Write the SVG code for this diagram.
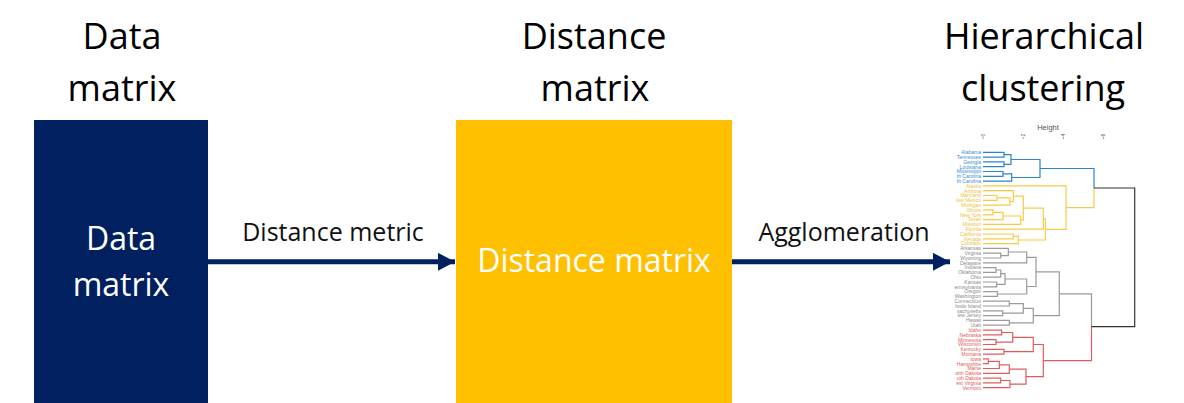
<svg xmlns="http://www.w3.org/2000/svg" width="1184" height="403" viewBox="0 0 1184 403">
<defs>
<style>
.title{font-family:"Open Sans","Liberation Sans",sans-serif;font-size:36px;fill:#000;text-anchor:middle}
.inbox{font-family:"Open Sans","Liberation Sans",sans-serif;font-size:32px;fill:#fff;text-anchor:middle}
.elabel{font-family:"Open Sans","Liberation Sans",sans-serif;font-size:25px;fill:#111;text-anchor:middle}
.conn{stroke:#002060;stroke-width:5;fill:none}
.lab{font-family:"Liberation Sans",Arial,sans-serif;font-size:5px;text-anchor:end}
.lb{fill:#3A8ED4}.ly{fill:#EFC23A}.lg{fill:#8A8A8A}.lr{fill:#E05A5A}
.dend{fill:none;stroke-width:1.2}
.sb{stroke:#2E83CF}.sy{stroke:#F5CB45}.sg{stroke:#9A9A9A}.sr{stroke:#E05C5C}.sk{stroke:#333}
.ax{font-family:"Liberation Sans",Arial,sans-serif;fill:#555}
</style>
<marker id="ah" viewBox="0 0 17 18" refX="17" refY="9" markerWidth="17" markerHeight="18" markerUnits="userSpaceOnUse" orient="auto">
<path d="M0,0 L17,9 L0,18 Z" fill="#002060"/>
</marker>
</defs>
<rect width="1184" height="403" fill="#fff"/>

<g id="title-data">
<text class="title" x="122" y="49">Data</text>
<text class="title" x="122" y="100.5">matrix</text>
</g>
<g id="title-distance">
<text class="title" x="594" y="49">Distance</text>
<text class="title" x="595" y="100.5">matrix</text>
</g>
<g id="title-hc">
<text class="title" x="1044" y="49">Hierarchical</text>
<text class="title" x="1043" y="100.5">clustering</text>
</g>

<g id="node-data-matrix">
<rect x="34" y="120" width="174" height="283" fill="#002060"/>
<text class="inbox" x="121" y="250">Data</text>
<text class="inbox" x="121" y="296">matrix</text>
</g>

<g id="node-distance-matrix">
<rect x="456" y="120" width="276" height="283" fill="#FFC000"/>
<text class="inbox" x="594" y="272">Distance matrix</text>
</g>

<g id="connectors">
<line class="conn" x1="208" y1="261.8" x2="455" y2="261.8" marker-end="url(#ah)"/>
<text class="elabel" x="333" y="240.7">Distance metric</text>
<line class="conn" x1="732" y1="261.8" x2="950" y2="261.8" marker-end="url(#ah)"/>
<text class="elabel" x="844" y="240.7">Agglomeration</text>
</g>

<g id="node-dendrogram">
<g id="axis">
<text class="ax" x="1048" y="129.5" font-size="7.5" text-anchor="middle">Height</text>
<g font-size="5" text-anchor="middle">
<text class="ax" transform="translate(984.7,135) rotate(-90)">0</text>
<text class="ax" transform="translate(1024.9,135) rotate(-90)">2</text>
<text class="ax" transform="translate(1065.1,135) rotate(-90)">4</text>
<text class="ax" transform="translate(1105.3,135) rotate(-90)">6</text>
</g>
<g stroke="#777" stroke-width="0.8">
<line x1="983" y1="137.2" x2="983" y2="139"/>
<line x1="1023.2" y1="137.2" x2="1023.2" y2="139"/>
<line x1="1063.4" y1="137.2" x2="1063.4" y2="139"/>
<line x1="1103.6" y1="137.2" x2="1103.6" y2="139"/>
</g>
</g>
<g id="leaf-labels" class="lab">
<text class="lb" x="981" y="154.1">Alabama</text>
<text class="lb" x="981" y="158.9">Tennessee</text>
<text class="lb" x="981" y="163.7">Georgia</text>
<text class="lb" x="981" y="168.5">Louisiana</text>
<text class="lb" x="981" y="173.3">Mississippi</text>
<text class="lb" x="981" y="178.1">th Carolina</text>
<text class="lb" x="981" y="182.9">th Carolina</text>
<text class="ly" x="981" y="187.7">Alaska</text>
<text class="ly" x="981" y="192.5">Arizona</text>
<text class="ly" x="981" y="197.3">Maryland</text>
<text class="ly" x="981" y="202.1">lew Mexico</text>
<text class="ly" x="981" y="206.9">Michigan</text>
<text class="ly" x="981" y="211.7">Illinois</text>
<text class="ly" x="981" y="216.6">New York</text>
<text class="ly" x="981" y="221.4">Texas</text>
<text class="ly" x="981" y="226.2">Missouri</text>
<text class="ly" x="981" y="231">Florida</text>
<text class="ly" x="981" y="235.8">California</text>
<text class="ly" x="981" y="240.6">Nevada</text>
<text class="ly" x="981" y="245.4">Colorado</text>
<text class="lg" x="981" y="250.2">Arkansas</text>
<text class="lg" x="981" y="255">Virginia</text>
<text class="lg" x="981" y="259.8">Wyoming</text>
<text class="lg" x="981" y="264.6">Delaware</text>
<text class="lg" x="981" y="269.4">Indiana</text>
<text class="lg" x="981" y="274.2">Oklahoma</text>
<text class="lg" x="981" y="279">Ohio</text>
<text class="lg" x="981" y="283.8">Kansas</text>
<text class="lg" x="981" y="288.6">ennsylvania</text>
<text class="lg" x="981" y="293.4">Oregon</text>
<text class="lg" x="981" y="298.2">Washington</text>
<text class="lg" x="981" y="303">Connecticut</text>
<text class="lg" x="981" y="307.8">hode Island</text>
<text class="lg" x="981" y="312.6">sachusetts</text>
<text class="lg" x="981" y="317.4">lew Jersey</text>
<text class="lg" x="981" y="322.2">Hawaii</text>
<text class="lg" x="981" y="327">Utah</text>
<text class="lr" x="981" y="331.9">Idaho</text>
<text class="lr" x="981" y="336.7">Nebraska</text>
<text class="lr" x="981" y="341.5">Minnesota</text>
<text class="lr" x="981" y="346.3">Wisconsin</text>
<text class="lr" x="981" y="351.1">Kentucky</text>
<text class="lr" x="981" y="355.9">Montana</text>
<text class="lr" x="981" y="360.7">Iowa</text>
<text class="lr" x="981" y="365.5">Hampshire</text>
<text class="lr" x="981" y="370.3">Maine</text>
<text class="lr" x="981" y="375.1">orth Dakota</text>
<text class="lr" x="981" y="379.9">uth Dakota</text>
<text class="lr" x="981" y="384.7">est Virginia</text>
<text class="lr" x="981" y="389.5">Vermont</text>
</g>
<g id="tree">
<path class="dend sb" d="M983,152.3H1004V157.1H983 M983,161.9H1004V166.7H983 M1004,154.7H1011V164.3H1004 M983,171.5H1003V176.3H983 M1003,173.9H1011.7V181.1H983 M1011,159.5H1040V177.5H1011.7 M1040,168.5H1094V188"/>
<path class="dend sy" d="M983,195.5H997V200.3H983 M997,197.9H1010V205.1H983 M983,190.7H1013.3V201.5H1010 M983,209.9H993V214.8H983 M993,212.35H1003V219.6H983 M1003,216H1020.7V224.4H983 M1013.3,196.1H1023.3V220.2H1020.7 M1023.3,208.15H1043.3V229.2H983 M983,234H1013.3V238.8H983 M1013.3,236.4H1018.3V243.6H983 M1043.3,218.7H1045.3V240H1018.3 M983,185.9H1066V229.35H1045.3 M1066,207.6H1094V188"/>
<path class="dend sg" d="M983,253.2H1000.7V258H983 M983,248.4H1008.3V255.6H1000.7 M1008.3,252H1026.7V262.8H983 M983,267.6H996V272.4H983 M996,270H1000.7V277.2H983 M983,282H996.7V286.8H983 M1000.7,273.6H1005V284.4H996.7 M983,291.6H997.3V296.4H983 M1005,279H1026.7V294H997.3 M1026.7,257.4H1036V286.5H1026.7 M983,301.2H1009.3V306H983 M983,310.8H1002.7V315.6H983 M1009.3,303.6H1023.3V313.2H1002.7 M983,320.4H1009.3V325.2H983 M1023.3,308.4H1033.3V322.8H1009.3 M1036,271.95H1059.3V315.6H1033.3 M1059.3,293.8H1091.5V326.7"/>
<path class="dend sr" d="M983,330.1H1001.7V334.9H983 M983,339.7H996V344.5H983 M1001.7,332.5H1012.7V342.1H996 M983,349.3H1004V354.1H983 M1012.7,337.3H1033.3V351.7H1004 M983,358.9H988.3V363.7H983 M988.3,361.3H999.3V368.5H983 M999.3,364.9H1009.3V373.3H983 M983,378.1H1000.7V382.9H983 M1000.7,380.5H1010V387.7H983 M1009.3,369.1H1026V384.1H1010 M1033.3,344.5H1043.3V376.6H1026 M1043.3,360.55H1091.5V326.7"/>
<path class="dend sk" d="M1094,188H1134.7V326.7H1091.5"/>
</g>
</g>
</svg>
